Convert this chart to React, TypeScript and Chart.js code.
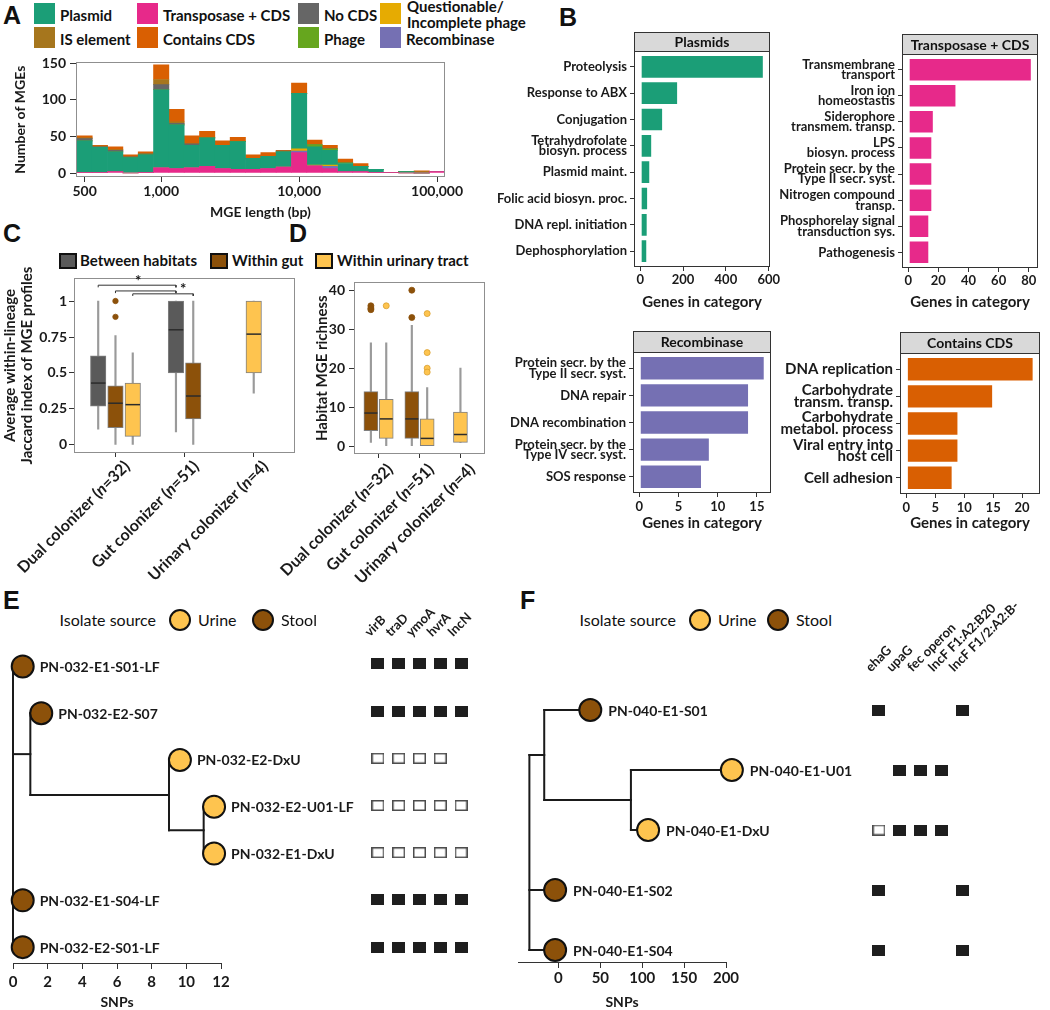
import React, { useEffect, useRef } from 'react';
import { Chart, registerables } from 'chart.js';

Chart.register(...registerables);

const FONT = 'Lato, "Open Sans", "DejaVu Sans", sans-serif';
const LETTER_FONT = '"Liberation Sans", Arial, sans-serif';
Chart.defaults.font.family = FONT;
(Chart.defaults.font as any).weight = 'bold';
Chart.defaults.color = '#1a1a1a';

/* ---------------- Panel A: MGE length histogram ---------------- */
const mgeBins = [0, 1, 2, 3, 4, 5, 6, 7, 8, 9, 10, 11, 12, 13, 14, 15, 16, 17, 18, 19, 20, 21, 22, 23];
const mgeTickBins = [0, 5, 14, 23];
const mgeTickLabels = ['500', '1,000', '10,000', '100,000'];
const mgeYTicks = [0, 50, 100, 150];
const mgeTransposase = [1, 1, 2, 0, 1, 7, 6, 7, 9, 6, 5, 5, 6, 8, 28, 10, 6, 2, 2, 1, 1, 0, 0, 2];
const mgeRecombinase = [0, 0, 0, 0, 0, 0, 0, 0, 0, 0, 0, 0, 0, 0, 2, 0, 3, 0, 0, 0, 0, 0, 0, 0];
const mgeQuestionable = [0, 0, 0, 0, 0, 0, 0, 0, 0, 0, 0, 0, 0, 0, 3, 1, 2, 0, 0, 0, 0, 0, 0, 0];
const mgePlasmid = [43, 34, 27, 21, 24, 107, 60, 31, 39, 32, 38, 15, 17, 21, 76, 25, 20, 11, 7, 4, 0, 2, 0, 0];
const mgePhage = [0, 0, 0, 0, 0, 0, 0, 0, 0, 0, 0, 0, 0, 0, 0, 3, 2, 1, 0, 0, 0, 0, 0, 0];
const mgeNoCds = [3, 1, 2, 1, 1, 7, 2, 2, 0, 0, 0, 0, 0, 1, 0, 0, 0, 0, 0, 0, 0, 0, 0, 0];
const mgeIsElement = [1, 1, 1, 0, 1, 7, 2, 0, 0, 0, 0, 0, 0, 0, 0, 0, 0, 0, 0, 0, 0, 0, 2, 0];
const mgeContainsCds = [3, 1, 4, 3, 2, 20, 17, 11, 9, 6, 6, 5, 5, 1, 14, 6, 5, 5, 4, 0, 0, 0, 1, 0];

const COL = {
  plasmid: '#1b9e77', transposase: '#e7298a', noCds: '#666666', questionable: '#e6ab02',
  isElement: '#a6761d', contains: '#d95f02', phage: '#66a61e', recombinase: '#7570b3',
};

// stacking order: bottom -> top
const mgeSeries = [
  { label: 'Transposase + CDS', data: mgeTransposase, color: COL.transposase },
  { label: 'Recombinase', data: mgeRecombinase, color: COL.recombinase },
  { label: 'Questionable/Incomplete phage', data: mgeQuestionable, color: COL.questionable },
  { label: 'Plasmid', data: mgePlasmid, color: COL.plasmid },
  { label: 'Phage', data: mgePhage, color: COL.phage },
  { label: 'No CDS', data: mgeNoCds, color: COL.noCds },
  { label: 'IS element', data: mgeIsElement, color: COL.isElement },
  { label: 'Contains CDS', data: mgeContainsCds, color: COL.contains },
];

/* ---------------- Panel B: gene categories ---------------- */
const plasmidTerms: (string | string[])[] = ['Proteolysis', 'Response to ABX', 'Conjugation', ['Tetrahydrofolate', 'biosyn. process'], 'Plasmid maint.', 'Folic acid biosyn. proc.', 'DNA repl. initiation', 'Dephosphorylation'];
const plasmidGenes = [577, 177, 107, 56, 47, 37, 35, 33];
const plasmidTicks = [0, 200, 400, 600];

const transposaseTerms: (string | string[])[] = [['Transmembrane', 'transport'], ['Iron ion', 'homeostastis'], ['Siderophore', 'transmem. transp.'], ['LPS', 'biosyn. process'], ['Protein secr. by the', 'Type II secr. syst.'], ['Nitrogen compound', 'transp.'], ['Phosphorelay signal', 'transduction sys.'], 'Pathogenesis'];
const transposaseGenes = [82, 32, 17, 16, 16, 16, 14, 14];
const transposaseTicks = [0, 20, 40, 60, 80];

const recombinaseTerms: (string | string[])[] = [['Protein secr. by the', 'Type II secr. syst.'], 'DNA repair', 'DNA recombination', ['Protein secr. by the', 'Type IV secr. syst.'], 'SOS response'];
const recombinaseGenes = [16, 14, 14, 9, 8];
const recombinaseTicks = [0, 5, 10, 15];

const containsTerms: (string | string[])[] = ['DNA replication', ['Carbohydrate', 'transm. transp.'], ['Carbohydrate', 'metabol. process'], ['Viral entry into', 'host cell'], 'Cell adhesion'];
const containsGenes = [22, 15, 9, 9, 8];
const containsTicks = [0, 5, 10, 15, 20];

/* ---------------- Panels C & D: boxplots ---------------- */
const colonizerTypes = ['Dual colonizer', 'Gut colonizer', 'Urinary colonizer'];
const colonizerN = [32, 51, 4];
const GREY = '#5a5a5a';
const BROWN = '#8c510a';
const YELLOW = '#fec44f';
// [min, q1, median, q3, max] per colonizer type (null = not applicable)
const jaccardBetween = [[0.11, 0.27, 0.43, 0.62, 1.0], [0.09, 0.5, 0.8, 1.0, 1.0], null];
const jaccardWithinGut = [[0, 0.12, 0.29, 0.41, 0.76], [0, 0.18, 0.34, 0.57, 1.0], null];
const jaccardWithinUrinary = [[0, 0.06, 0.28, 0.43, 0.64], null, [0.36, 0.5, 0.77, 1.0, 1.0]];
const jaccardOutliersWithinGut = [[1.0, 0.89], [], []];
const jaccardTicks = [0, 0.25, 0.5, 0.75, 1];
const jaccardTickLabels = ['0', '0.25', '0.5', '0.75', '1'];
// significance brackets: [colonizer, group] -> [colonizer, group]
const sigBrackets = [
  { from: [0, 0], to: [1, 0], y: 1.11 },
  { from: [0, 1], to: [1, 0], y: 1.07 },
  { from: [0, 2], to: [1, 1], y: 1.05 },
];
const sigStars = [{ x: 0.33, y: 1.135 }, { x: 0.98, y: 1.085 }];

const richnessWithinGut = [[1, 4, 8.5, 14, 26.5], [0, 2, 7, 14, 31], null];
const richnessWithinUrinary = [[0, 2, 7, 12, 26.5], [0, 0, 2, 7, 15], [1, 1, 3, 8.75, 20]];
const richnessOutliersWithinGut = [[36, 35.4, 35], [40, 33], []];
const richnessOutliersWithinUrinary = [[36], [34, 24, 20, 19], []];
const richnessTicks = [0, 10, 20, 30, 40];

/* ---------------- Panels E & F: trees ---------------- */
const URINE = '#fec44f';
const STOOL = '#8c510a';
const treeETips = ['PN-032-E1-S01-LF', 'PN-032-E2-S07', 'PN-032-E2-DxU', 'PN-032-E2-U01-LF', 'PN-032-E1-DxU', 'PN-032-E1-S04-LF', 'PN-032-E2-S01-LF'];
const treeETipSnps = [0.56, 1.63, 9.63, 11.6, 11.6, 0.56, 0.56];
const treeESource = ['Stool', 'Stool', 'Urine', 'Urine', 'Urine', 'Stool', 'Stool'];
const treeENodes = [
  { x: 0, children: ['t0', 'n1', 't5', 't6'] },
  { x: 1, children: ['t1', 'n2'] },
  { x: 9, children: ['t2', 'n3'] },
  { x: 11, children: ['t3', 't4'] },
];
const treeETicks = [0, 2, 4, 6, 8, 10, 12];
const heatEGenes = ['virB', 'traD', 'ymoA', 'hvrA', 'IncN'];
const heatE = [
  [1, 1, 1, 1, 1],
  [1, 1, 1, 1, 1],
  [0, 0, 0, 0, null],
  [0, 0, 0, 0, 0],
  [0, 0, 0, 0, 0],
  [1, 1, 1, 1, 1],
  [1, 1, 1, 1, 1],
];

const treeFTips = ['PN-040-E1-S01', 'PN-040-E1-U01', 'PN-040-E1-DxU', 'PN-040-E1-S02', 'PN-040-E1-S04'];
const treeFTipSnps = [38, 207, 107, -4, -4];
const treeFSource = ['Stool', 'Urine', 'Urine', 'Stool', 'Stool'];
const treeFNodes = [
  { x: -34.7, children: ['n1', 't3', 't4'] },
  { x: -17, children: ['t0', 'n2'] },
  { x: 86.5, children: ['t1', 't2'] },
];
const treeFTicks = [0, 50, 100, 150, 200];
const heatFGenes = ['ehaG', 'upaG', 'fec operon', 'IncF F1:A2:B20', 'IncF F1/2:A2:B-'];
const heatF = [
  [1, null, null, null, 1],
  [null, 1, 1, 1, null],
  [0, 1, 1, 1, null],
  [1, null, null, null, 1],
  [1, null, null, null, 1],
];

/* ---------------- helpers ---------------- */
const fixW = (w: number) => (s: any) => { s.width = w; };
const fixH = (h: number) => (s: any) => { s.height = h; };
const setTicks = (vals: number[]) => (s: any) => { s.ticks = vals.map((v) => ({ value: v })); };
const tickGrid = (len: number, color = '#333') => ({ display: true, drawOnChartArea: false, drawTicks: true, tickLength: len, color, lineWidth: 1, offset: false });
const f = (size: number, lineHeight = 1.2) => ({ size, weight: 'bold', lineHeight, family: FONT });

function baseOpts(pad: any) {
  return {
    animation: false, responsive: false, maintainAspectRatio: false, devicePixelRatio: 1,
    events: [], layout: { padding: pad },
    plugins: { legend: { display: false }, tooltip: { enabled: false }, title: { display: false } },
  };
}

const framePl = (color: string) => ({
  id: 'frame',
  afterDatasetsDraw(chart: any) {
    const { ctx, chartArea: a } = chart;
    ctx.save();
    ctx.strokeStyle = color; ctx.lineWidth = 1;
    ctx.strokeRect(Math.round(a.left) + 0.5, Math.round(a.top) + 0.5, Math.round(a.right - a.left) - 1, Math.round(a.bottom - a.top) - 1);
    ctx.restore();
  },
});

const stripPl = (text: string, h: number) => ({
  id: 'strip',
  afterDraw(chart: any) {
    const { ctx, chartArea: a } = chart;
    const l = Math.round(a.left), t = Math.round(a.top - h), w = Math.round(a.right - a.left);
    ctx.save();
    ctx.fillStyle = '#d9d9d9'; ctx.fillRect(l, t, w, h);
    ctx.strokeStyle = '#333'; ctx.lineWidth = 1; ctx.strokeRect(l + 0.5, t + 0.5, w - 1, h);
    ctx.fillStyle = '#111'; ctx.font = `bold 14px ${FONT}`; ctx.textAlign = 'center'; ctx.textBaseline = 'middle';
    ctx.fillText(text, l + w / 2, t + h / 2 + 1);
    ctx.restore();
  },
});

const medianPl = () => ({
  id: 'medians',
  afterDatasetsDraw(chart: any) {
    const ctx = chart.ctx; const ys = chart.scales.y;
    chart.data.datasets.forEach((ds: any, di: number) => {
      if (!ds.medians) return;
      const meta = chart.getDatasetMeta(di);
      meta.data.forEach((el: any, i: number) => {
        const py = ys.getPixelForValue(ds.medians[i]);
        const half = el.width / 2;
        ctx.save(); ctx.strokeStyle = '#2b2b2b'; ctx.lineWidth = 1.5;
        ctx.beginPath(); ctx.moveTo(el.x - half + 0.5, py); ctx.lineTo(el.x + half - 0.5, py); ctx.stroke();
        ctx.restore();
      });
    });
  },
});

const richLabelPl = (items: { t: string; it?: boolean }[][], dx: number, dy: number, size: number) => ({
  id: 'richLabels',
  afterDraw(chart: any) {
    const { ctx, chartArea } = chart; const xs = chart.scales.x;
    items.forEach((segs, i) => {
      const px = xs.getPixelForValue(i) + dx; const py = chartArea.bottom + dy;
      ctx.save();
      ctx.translate(px, py); ctx.rotate(-Math.PI / 4);
      ctx.textBaseline = 'top'; ctx.textAlign = 'left'; ctx.fillStyle = '#1a1a1a';
      const fontOf = (s: any) => `${s.it ? 'italic ' : ''}bold ${size}px ${FONT}`;
      let total = 0;
      segs.forEach((s) => { ctx.font = fontOf(s); total += ctx.measureText(s.t).width; });
      let x = -total;
      segs.forEach((s) => { ctx.font = fontOf(s); ctx.fillText(s.t, x, 0); x += ctx.measureText(s.t).width; });
      ctx.restore();
    });
  },
});

const starsPl = (stars: { x: number; y: number }[]) => ({
  id: 'stars',
  afterDatasetsDraw(chart: any) {
    const { ctx } = chart; const xs = chart.scales.x, ys = chart.scales.y;
    ctx.save(); ctx.font = `bold 15px ${FONT}`; ctx.fillStyle = '#1a1a1a'; ctx.textAlign = 'center'; ctx.textBaseline = 'middle';
    stars.forEach((s) => ctx.fillText('*', xs.getPixelForValue(s.x), ys.getPixelForValue(s.y)));
    ctx.restore();
  },
});

const tipLabelPl = (labels: string[], xsVals: number[], dx: number) => ({
  id: 'tipLabels',
  afterDatasetsDraw(chart: any) {
    const { ctx } = chart; const xs = chart.scales.x, ys = chart.scales.y;
    ctx.save(); ctx.font = `bold 14px ${FONT}`; ctx.fillStyle = '#1a1a1a'; ctx.textAlign = 'left'; ctx.textBaseline = 'middle';
    labels.forEach((t, i) => ctx.fillText(t, xs.getPixelForValue(xsVals[i]) + dx, ys.getPixelForValue(i + 1) + 1));
    ctx.restore();
  },
});

/* ---------------- chart builders ---------------- */
function makeA() {
  return {
    type: 'bar',
    data: {
      datasets: mgeSeries.map((s) => ({
        label: s.label,
        data: s.data.map((v, i) => ({ x: mgeBins[i], y: v })),
        backgroundColor: s.color, borderWidth: 0, barPercentage: 1, categoryPercentage: 1,
      })),
    },
    options: {
      ...baseOpts({ left: 0, top: 12, right: 30, bottom: 0 }),
      scales: {
        x: {
          type: 'linear', stacked: true, offset: false, min: -0.56, max: 23.52,
          afterBuildTicks: setTicks(mgeTickBins), afterFit: fixH(44),
          ticks: { callback: (v: number) => mgeTickLabels[mgeTickBins.indexOf(v)], font: f(14), padding: 1, maxRotation: 0, autoSkip: false },
          grid: tickGrid(5), border: { display: false },
          title: { display: true, text: 'MGE length (bp)', font: f(14), padding: 0 },
        },
        y: {
          type: 'linear', stacked: true, min: -5.45, max: 151.4,
          afterBuildTicks: setTicks(mgeYTicks), afterFit: fixW(76),
          ticks: { font: f(14), padding: 4, callback: (v: number) => String(v) },
          grid: tickGrid(6), border: { display: false },
          title: { display: true, text: 'Number of MGEs', font: f(14), padding: { top: 11.6, bottom: 0 } },
        },
      },
    },
    plugins: [framePl('#8f8f8f')],
  };
}

function makeBarh(o: any) {
  const n = o.labels.length;
  const idx = o.labels.map((_: any, i: number) => i);
  return {
    type: 'bar',
    data: {
      datasets: [{
        data: o.values.map((v: number, i: number) => ({ x: v, y: i })),
        backgroundColor: o.color, borderColor: 'rgba(255,255,255,0.55)', borderWidth: 1, borderSkipped: false,
        barPercentage: 0.9, categoryPercentage: 1,
      }],
    },
    options: {
      ...baseOpts(o.pad), indexAxis: 'y',
      scales: {
        y: {
          type: 'linear', reverse: true, offset: false, min: -0.6, max: n - 0.4,
          afterBuildTicks: setTicks(idx), afterFit: fixW(o.yW),
          ticks: { callback: (v: number) => o.labels[v], font: f(o.labelSize, o.labelLH), padding: 3, autoSkip: false },
          grid: tickGrid(4), border: { display: false },
        },
        x: {
          type: 'linear', offset: false, min: o.xMin, max: o.xMax,
          afterBuildTicks: setTicks(o.xTicks), afterFit: fixH(o.xH),
          ticks: { callback: (v: number) => String(v), font: f(13), padding: o.tickPad, maxRotation: 0, autoSkip: false },
          grid: tickGrid(4), border: { display: false },
          title: { display: true, text: 'Genes in category', font: f(15), padding: 0 },
        },
      },
    },
    plugins: [framePl('#333'), stripPl(o.strip, o.stripH)],
  };
}

function makeBox(o: any) {
  const present = (c: number) => o.groups.map((g: any, gi: number) => (g.stats[c] ? gi : -1)).filter((i: number) => i >= 0);
  const bx = (c: number, gi: number) => { const p = present(c); return c + (p.indexOf(gi) - (p.length - 1) / 2) * o.slot; };
  const datasets: any[] = [];
  o.groups.forEach((g: any, gi: number) => {
    const cats = g.stats.map((s: any, c: number) => (s ? c : -1)).filter((c: number) => c >= 0);
    datasets.push({
      type: 'bar', order: 3, grouped: false, barThickness: 1.5, backgroundColor: '#9a9a9a',
      data: cats.map((c: number) => ({ x: bx(c, gi), y: [g.stats[c][0], g.stats[c][4]] })),
    });
    datasets.push({
      type: 'bar', order: 2, grouped: false, barThickness: o.thick, backgroundColor: g.color,
      borderColor: '#808080', borderWidth: 1, borderSkipped: false,
      data: cats.map((c: number) => ({ x: bx(c, gi), y: [g.stats[c][1], g.stats[c][3]] })),
      medians: cats.map((c: number) => g.stats[c][2]),
    });
    const pts: any[] = [];
    g.outliers.forEach((arr: number[], c: number) => arr.forEach((v) => pts.push({ x: bx(c, gi), y: v })));
    if (pts.length) {
      datasets.push({ type: 'scatter', order: 1, data: pts, pointRadius: o.outR, pointBackgroundColor: g.color, pointBorderColor: g.outBorder, pointBorderWidth: 0.8, clip: false });
    }
  });
  (o.brackets || []).forEach((b: any) => {
    const x1 = bx(b.from[0], b.from[1]), x2 = bx(b.to[0], b.to[1]);
    datasets.push({
      type: 'scatter', order: 0, showLine: true, pointRadius: 0, borderColor: '#333', borderWidth: 1, clip: false,
      data: [{ x: x1, y: b.y - 0.015 }, { x: x1, y: b.y }, { x: x2, y: b.y }, { x: x2, y: b.y - 0.015 }],
    });
  });
  const labels = colonizerTypes.map((t, i) => [{ t: `${t} (` }, { t: 'n', it: true }, { t: `=${colonizerN[i]})` }]);
  const plugins: any[] = [framePl('#8f8f8f'), medianPl(), richLabelPl(labels, o.labelDx, o.labelDy, 16)];
  if (o.stars) plugins.push(starsPl(o.stars));
  return {
    type: 'bar',
    data: { datasets },
    options: {
      ...baseOpts(o.pad),
      scales: {
        x: {
          type: 'linear', offset: false, min: -0.6, max: 2.6,
          afterBuildTicks: setTicks([0, 1, 2]), afterFit: fixH(o.xH),
          ticks: { display: false }, grid: tickGrid(4), border: { display: false },
        },
        y: {
          type: 'linear', min: o.yMin, max: o.yMax,
          afterBuildTicks: setTicks(o.yTicks), afterFit: fixW(o.yW),
          ticks: { callback: (v: number) => o.yTickLabels[o.yTicks.indexOf(v)], font: f(14), padding: o.yTickPad },
          grid: tickGrid(5), border: { display: false },
          title: { display: true, text: o.yTitle, font: f(15, 1.15), padding: { top: o.titlePad, bottom: 0 } },
        },
      },
    },
    plugins,
  };
}

function makeTree(o: any) {
  const refY = (r: string): number => (r[0] === 't' ? +r.slice(1) + 1 : nodeY(+r.slice(1)));
  const nodeY = (k: number): number => { const ch = o.nodes[k].children; return (refY(ch[0]) + refY(ch[ch.length - 1])) / 2; };
  const refX = (r: string): number => (r[0] === 't' ? o.tipX[+r.slice(1)] : o.nodes[+r.slice(1)].x);
  const segs: any[] = [];
  o.nodes.forEach((nd: any) => {
    const ch = nd.children;
    segs.push([{ x: nd.x, y: refY(ch[0]) }, { x: nd.x, y: refY(ch[ch.length - 1]) }]);
    ch.forEach((r: string) => segs.push([{ x: nd.x, y: refY(r) }, { x: refX(r), y: refY(r) }]));
  });
  const datasets: any[] = segs.map((d) => ({
    type: 'scatter', showLine: true, data: d, pointRadius: 0, borderColor: '#1a1a1a', borderWidth: 2,
    borderCapStyle: 'square', order: 2, clip: false,
  }));
  datasets.push({
    type: 'scatter', order: 0, clip: false,
    data: o.tipX.map((x: number, i: number) => ({ x, y: i + 1 })),
    pointRadius: 11, pointBackgroundColor: o.source.map((s: string) => (s === 'Urine' ? URINE : STOOL)),
    pointBorderColor: '#111', pointBorderWidth: 2,
  });
  return {
    type: 'scatter',
    data: { datasets },
    options: {
      ...baseOpts(o.pad),
      scales: {
        x: {
          type: 'linear', min: o.xMin, max: o.xMax,
          afterBuildTicks: setTicks(o.xTicks), afterFit: fixH(o.xH),
          ticks: { callback: (v: number) => String(v), font: f(15), padding: o.tickPad, maxRotation: 0, autoSkip: false },
          grid: tickGrid(6), border: { display: true, color: '#333', width: 1 },
          title: { display: true, text: 'SNPs', font: f(14, 1.1), padding: 0 },
        },
        y: { type: 'linear', display: false, reverse: true, min: o.yMin, max: o.yMax },
      },
    },
    plugins: [tipLabelPl(o.tips, o.tipX, o.labelDx)],
  };
}

function rectImg(filled: boolean) {
  const c = document.createElement('canvas');
  c.width = 13; c.height = 11;
  const g = c.getContext('2d')!;
  if (filled) { g.fillStyle = '#1e1e1e'; g.fillRect(0, 0, 13, 11); }
  else { g.fillStyle = '#fff'; g.fillRect(0, 0, 13, 11); g.strokeStyle = '#4d4d4d'; g.lineWidth = 1.5; g.strokeRect(0.75, 0.75, 11.5, 9.5); }
  return c;
}

function makeHeat(o: any) {
  const pts: any[] = [];
  o.matrix.forEach((row: (number | null)[], r: number) => row.forEach((v, c) => { if (v !== null) pts.push({ x: c, y: r + 1, v }); }));
  const filled = rectImg(true), open = rectImg(false);
  const idx = o.genes.map((_: any, i: number) => i);
  return {
    type: 'scatter',
    data: { datasets: [{ data: pts, pointRadius: 7, pointStyle: (ctx: any) => (ctx.raw && ctx.raw.v ? filled : open), clip: false }] },
    options: {
      ...baseOpts(o.pad),
      scales: {
        x: {
          type: 'linear', position: 'top', min: -0.5, max: o.genes.length - 0.5,
          afterBuildTicks: setTicks(idx), afterFit: fixH(o.xH),
          ticks: { callback: (v: number) => o.genes[v], font: f(13), minRotation: 45, maxRotation: 45, padding: o.labelPad, autoSkip: false },
          grid: { display: false }, border: { display: false },
        },
        y: { type: 'linear', display: false, reverse: true, min: o.yMin, max: o.yMax },
      },
    },
  };
}

/* ---------------- React parts ---------------- */
function ChartCanvas({ x, y, w, h, make }: { x: number; y: number; w: number; h: number; make: () => any }) {
  const ref = useRef<HTMLCanvasElement | null>(null);
  useEffect(() => {
    if (!ref.current) return;
    const chart = new Chart(ref.current, make());
    return () => chart.destroy();
  }, []);
  return <canvas ref={ref} width={w} height={h} style={{ position: 'absolute', left: x, top: y, width: w, height: h }} />;
}

function Txt({ x, y, s, w = 700, fam = FONT, right = false, children }: any) {
  return (
    <div style={{ position: 'absolute', left: x, top: y, transform: right ? 'translate(-100%, -50%)' : 'translateY(-50%)', fontSize: s, fontWeight: w, fontFamily: fam, lineHeight: 1.05, whiteSpace: 'nowrap', color: '#111' }}>
      {children}
    </div>
  );
}

function Swatch({ x, y, w, h, color, border }: any) {
  return <div style={{ position: 'absolute', left: x, top: y, width: w, height: h, background: color, boxSizing: 'border-box', border: border || 'none' }} />;
}

function Dot({ x, y, color }: any) {
  return <div style={{ position: 'absolute', left: x - 11, top: y - 11, width: 22, height: 22, borderRadius: '50%', background: color, boxSizing: 'border-box', border: '2px solid #111' }} />;
}

const legendA = [
  { label: 'Plasmid', color: COL.plasmid, col: 0, row: 0 },
  { label: 'IS element', color: COL.isElement, col: 0, row: 1 },
  { label: 'Transposase + CDS', color: COL.transposase, col: 1, row: 0 },
  { label: 'Contains CDS', color: COL.contains, col: 1, row: 1 },
  { label: 'No CDS', color: COL.noCds, col: 2, row: 0 },
  { label: 'Phage', color: COL.phage, col: 2, row: 1 },
  { label: 'Questionable/\nIncomplete phage', color: COL.questionable, col: 3, row: 0 },
  { label: 'Recombinase', color: COL.recombinase, col: 3, row: 1 },
];
const legendAColX = [34, 137, 298, 380];
const legendARowY = [3, 27];

export default function App() {
  const jaccardGroups = [
    { stats: jaccardBetween, color: GREY, outliers: [[], [], []], outBorder: GREY },
    { stats: jaccardWithinGut, color: BROWN, outliers: jaccardOutliersWithinGut, outBorder: BROWN },
    { stats: jaccardWithinUrinary, color: YELLOW, outliers: [[], [], []], outBorder: '#d9a030' },
  ];
  const richnessGroups = [
    { stats: richnessWithinGut, color: BROWN, outliers: richnessOutliersWithinGut, outBorder: BROWN },
    { stats: richnessWithinUrinary, color: YELLOW, outliers: richnessOutliersWithinUrinary, outBorder: '#d9a030' },
  ];
  return (
    <div style={{ position: 'absolute', left: 0, top: 0, width: 1050, height: 1010, background: '#fff', overflow: 'hidden', fontFamily: FONT }}>
      {/* panel letters */}
      <Txt x={3} y={15} s={25} fam={LETTER_FONT}>A</Txt>
      <Txt x={559} y={17} s={25} fam={LETTER_FONT}>B</Txt>
      <Txt x={3} y={233} s={25} fam={LETTER_FONT}>C</Txt>
      <Txt x={289} y={233} s={25} fam={LETTER_FONT}>D</Txt>
      <Txt x={3} y={600} s={25} fam={LETTER_FONT}>E</Txt>
      <Txt x={520} y={600} s={25} fam={LETTER_FONT}>F</Txt>

      {/* legend A */}
      {legendA.map((it) => (
        <React.Fragment key={it.label}>
          <Swatch x={legendAColX[it.col]} y={legendARowY[it.row]} w={21} h={21} color={it.color} />
          {it.label.includes('\n') ? (
            <div style={{ position: 'absolute', left: legendAColX[it.col] + 27, top: -2, fontSize: 15, fontWeight: 700, lineHeight: '16px', whiteSpace: 'pre', color: '#111' }}>{it.label}</div>
          ) : (
            <Txt x={legendAColX[it.col] + 26} y={legendARowY[it.row] + 13} s={15}>{it.label}</Txt>
          )}
        </React.Fragment>
      ))}
      <ChartCanvas x={0} y={50} w={475} h={171} make={makeA} />

      {/* panel B */}
      <ChartCanvas x={495} y={20} w={295} h={291} make={() => makeBarh({
        labels: plasmidTerms, values: plasmidGenes, color: COL.plasmid, xMin: -28.85, xMax: 605.85, xTicks: plasmidTicks,
        strip: 'Plasmids', stripH: 19, pad: { left: 0, top: 31, right: 20, bottom: 0 }, yW: 139, xH: 44, labelSize: 13, labelLH: 0.8, tickPad: 1.2,
      })} />
      <ChartCanvas x={770} y={20} w={280} h={291} make={() => makeBarh({
        labels: transposaseTerms, values: transposaseGenes, color: COL.transposase, xMin: -4.1, xMax: 86.1, xTicks: transposaseTicks,
        strip: 'Transposase + CDS', stripH: 20, pad: { left: 0, top: 34, right: 12, bottom: 0 }, yW: 132, xH: 43, labelSize: 13, labelLH: 0.8, tickPad: 1.2,
      })} />
      <ChartCanvas x={495} y={310} w={295} h={222} make={() => makeBarh({
        labels: recombinaseTerms, values: recombinaseGenes, color: COL.recombinase, xMin: -0.8, xMax: 16.8, xTicks: recombinaseTicks,
        strip: 'Recombinase', stripH: 21, pad: { left: 0, top: 42, right: 19, bottom: 0 }, yW: 138, xH: 39, labelSize: 13, labelLH: 0.8, tickPad: 2.2,
      })} />
      <ChartCanvas x={770} y={310} w={280} h={222} make={() => makeBarh({
        labels: containsTerms, values: containsGenes, color: COL.contains, xMin: -1.1, xMax: 23.1, xTicks: containsTicks,
        strip: 'Contains CDS', stripH: 21, pad: { left: 0, top: 43, right: 10, bottom: 0 }, yW: 130, xH: 38, labelSize: 15, labelLH: 0.78, tickPad: 2.2,
      })} />

      {/* legend C/D */}
      <Swatch x={59} y={253} w={18} h={16} color={GREY} border="2px solid #111" />
      <Txt x={80} y={261} s={15}>Between habitats</Txt>
      <Swatch x={210} y={253} w={18} h={16} color={BROWN} border="2px solid #111" />
      <Txt x={232} y={261} s={15}>Within gut</Txt>
      <Swatch x={315} y={253} w={18} h={16} color={YELLOW} border="2px solid #111" />
      <Txt x={337} y={261} s={15}>Within urinary tract</Txt>

      <ChartCanvas x={0} y={240} w={300} h={360} make={() => makeBox({
        groups: jaccardGroups, slot: 0.25, thick: 15.5, outR: 2.7,
        yMin: -0.056, yMax: 1.16, yTicks: jaccardTicks, yTickLabels: jaccardTickLabels,
        yTitle: ['Average within-lineage', 'Jaccard index of MGE profiles'], titlePad: 1.4,
        pad: { left: 0, top: 38, right: 3, bottom: 0 }, yW: 74, xH: 147, yTickPad: 2,
        labelDx: 6, labelDy: 5, brackets: sigBrackets, stars: sigStars,
      })} />
      <ChartCanvas x={270} y={270} w={230} h={330} make={() => makeBox({
        groups: richnessGroups, slot: 0.375, thick: 14, outR: 3,
        yMin: -2, yMax: 42, yTicks: richnessTicks, yTickLabels: richnessTicks.map(String),
        yTitle: 'Habitat MGE richness', titlePad: 43.4,
        pad: { left: 0, top: 8, right: 15, bottom: 0 }, yW: 84, xH: 146, yTickPad: 4,
        labelDx: 6, labelDy: 7,
      })} />

      {/* legend E */}
      <Txt x={156} y={620} s={16} w={400} right>Isolate source</Txt>
      <Dot x={180} y={620} color={URINE} />
      <Txt x={198} y={620} s={16} w={400}>Urine</Txt>
      <Dot x={263} y={620} color={STOOL} />
      <Txt x={281} y={620} s={16} w={400}>Stool</Txt>
      <ChartCanvas x={0} y={630} w={380} h={380} make={() => makeTree({
        tips: treeETips, tipX: treeETipSnps, source: treeESource, nodes: treeENodes,
        xMin: 0, xMax: 12, xTicks: treeETicks, yMin: 0.5, yMax: 7.339,
        pad: { left: 8, top: 10.4, right: 159, bottom: 0 }, xH: 47, tickPad: 4, labelDx: 17,
      })} />
      <ChartCanvas x={340} y={560} w={200} h={450} make={() => makeHeat({
        genes: heatEGenes, matrix: heatE, yMin: 0.7, yMax: 7.339,
        pad: { left: 27.6, top: 0, right: 68.6, bottom: 47 }, xH: 89.8, labelPad: 2,
      })} />

      {/* legend F */}
      <Txt x={676} y={620} s={16} w={400} right>Isolate source</Txt>
      <Dot x={700} y={620} color={URINE} />
      <Txt x={718} y={620} s={16} w={400}>Urine</Txt>
      <Dot x={778} y={620} color={STOOL} />
      <Txt x={796} y={620} s={16} w={400}>Stool</Txt>
      <ChartCanvas x={505} y={630} w={360} h={380} make={() => makeTree({
        tips: treeFTips, tipX: treeFTipSnps, source: treeFSource, nodes: treeFNodes,
        xMin: -48.3, xMax: 200, xTicks: treeFTicks, yMin: 0.5, yMax: 5.2,
        pad: { left: 10, top: 50, right: 139, bottom: 0 }, xH: 48, tickPad: 1, labelDx: 18,
      })} />
      <ChartCanvas x={840} y={560} w={210} h={450} make={() => makeHeat({
        genes: heatFGenes, matrix: heatF, yMin: 0.6, yMax: 5.2,
        pad: { left: 28.6, top: 0, right: 77.6, bottom: 48 }, xH: 126, labelPad: 3,
      })} />
    </div>
  );
}
